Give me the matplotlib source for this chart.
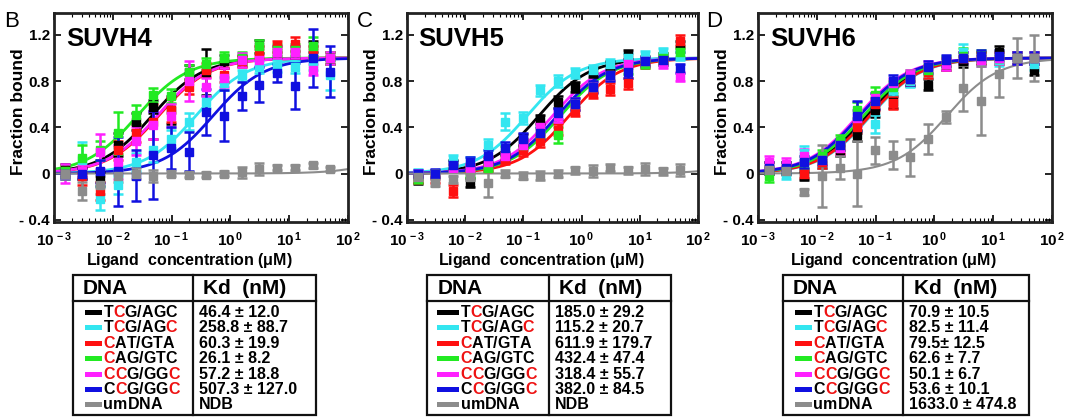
import numpy as np
import matplotlib
matplotlib.use('Agg')
import matplotlib.pyplot as plt
from matplotlib.patches import Rectangle

plt.rcParams['font.family'] = ['Liberation Sans', 'DejaVu Sans']
plt.rcParams['font.weight'] = 'bold'
plt.rcParams['mathtext.fontset'] = 'custom'
plt.rcParams['mathtext.rm'] = 'Liberation Sans:bold'
plt.rcParams['mathtext.it'] = 'Liberation Sans:bold'
plt.rcParams['mathtext.bf'] = 'Liberation Sans:bold'

# --- data -------------------------------------------------------------
# ligand concentration (uM), 2-fold dilution series
conc = [0.00153, 0.00305, 0.0061, 0.0122, 0.0244, 0.0488, 0.0977, 0.195,
        0.39, 0.781, 1.5625, 3.125, 6.25, 12.5, 25.0, 50.0]

dna_labels = ['TCG/AGC', 'TCG/AGC', 'CAT/GTA', 'CAG/GTC', 'CCG/GGC', 'CCG/GGC', 'umDNA']
red_pos = [[1], [1, 6], [0], [0], [0, 1, 6], [1, 6], []]
colors = ['black', '#33e6f0', '#ff1010', '#22ea22', '#ff20ff', '#1010e0', '#8c8c8c']

# SUVH4
h4_kd_text = ['46.4 ± 12.0', '258.8 ± 88.7', '60.3 ± 19.9', '26.1 ± 8.2',
              '57.2 ± 18.8', '507.3 ± 127.0', 'NDB']
h4_fit = [0.0464, 0.2588, 0.0603, 0.0261, 0.0572, 0.5073, 2500.0]   # uM
h4_y = [
    [0.03, 0.00, -0.05, 0.25, 0.45, 0.58, 0.55, 0.88, 0.88, 0.97, 0.98, 1.10, 1.05, 1.05, 1.10, 1.00],
    [0.00, 0.12, -0.22, -0.10, 0.10, 0.20, 0.30, 0.45, 0.62, 0.78, 0.85, 0.92, 0.93, 0.92, 0.95, 0.85],
    [0.02, -0.02, -0.15, 0.20, 0.35, 0.45, 0.55, 0.75, 0.90, 0.85, 0.97, 1.05, 1.10, 1.12, 1.05, 1.00],
    [0.02, 0.13, 0.20, 0.35, 0.51, 0.68, 0.67, 0.88, 0.95, 1.00, 1.00, 1.10, 1.07, 1.07, 1.10, 1.00],
    [0.00, 0.02, 0.19, 0.10, 0.28, 0.42, 0.50, 0.80, 0.75, 0.83, 0.98, 0.98, 1.05, 1.05, 0.90, 1.00],
    [0.00, 0.00, 0.02, 0.02, -0.02, 0.16, 0.22, 0.19, 0.53, 0.50, 0.67, 0.77, 0.87, 0.76, 1.00, 0.88],
    [0.00, -0.15, -0.10, -0.02, 0.00, -0.02, 0.00, -0.01, -0.01, 0.00, 0.01, 0.04, 0.05, 0.05, 0.07, 0.04],
]
h4_err = [
    [0.05, 0.05, 0.06, 0.10, 0.07, 0.06, 0.12, 0.06, 0.20, 0.06, 0.05, 0.06, 0.05, 0.05, 0.05, 0.05],
    [0.05, 0.15, 0.10, 0.08, 0.08, 0.10, 0.08, 0.07, 0.05, 0.06, 0.05, 0.05, 0.05, 0.05, 0.05, 0.13],
    [0.05, 0.08, 0.08, 0.08, 0.08, 0.15, 0.10, 0.06, 0.06, 0.06, 0.05, 0.05, 0.05, 0.06, 0.05, 0.05],
    [0.05, 0.12, 0.08, 0.18, 0.08, 0.06, 0.06, 0.06, 0.05, 0.05, 0.05, 0.06, 0.05, 0.05, 0.08, 0.05],
    [0.08, 0.05, 0.15, 0.15, 0.12, 0.12, 0.10, 0.17, 0.08, 0.08, 0.06, 0.05, 0.05, 0.05, 0.05, 0.05],
    [0.05, 0.05, 0.10, 0.30, 0.22, 0.38, 0.18, 0.17, 0.20, 0.22, 0.12, 0.15, 0.08, 0.20, 0.25, 0.22],
    [0.05, 0.08, 0.08, 0.05, 0.05, 0.05, 0.02, 0.02, 0.02, 0.02, 0.05, 0.05, 0.02, 0.02, 0.02, 0.02],
]

# SUVH5
h5_kd_text = ['185.0 ± 29.2', '115.2 ± 20.7', '611.9 ± 179.7', '432.4 ± 47.4',
              '318.4 ± 55.7', '382.0 ± 84.5', 'NDB']
h5_fit = [0.185, 0.1152, 0.6119, 0.4324, 0.3184, 0.382, 5000.0]
h5_y = [
    [-0.05, 0.00, 0.08, -0.08, 0.10, 0.15, 0.29, 0.47, 0.62, 0.75, 0.88, 0.93, 1.03, 0.98, 1.00, 1.10],
    [0.00, 0.00, 0.12, 0.10, 0.25, 0.45, 0.48, 0.72, 0.80, 0.87, 0.90, 0.95, 1.00, 1.02, 1.05, 1.02],
    [-0.05, -0.05, -0.15, 0.05, 0.05, 0.12, 0.20, 0.28, 0.38, 0.54, 0.70, 0.73, 0.78, 0.95, 0.98, 1.15],
    [-0.05, 0.00, 0.05, 0.00, 0.05, 0.20, 0.25, 0.35, 0.33, 0.60, 0.75, 0.85, 0.90, 0.95, 1.00, 1.05],
    [0.00, 0.00, 0.05, 0.05, 0.10, 0.15, 0.25, 0.40, 0.50, 0.60, 0.75, 0.85, 0.95, 0.97, 0.95, 0.84],
    [0.00, 0.00, 0.07, 0.10, 0.15, 0.22, 0.30, 0.35, 0.52, 0.60, 0.75, 0.85, 0.88, 0.97, 0.98, 0.91],
    [-0.03, -0.08, -0.05, -0.03, -0.08, 0.00, -0.02, -0.02, 0.00, 0.03, 0.02, 0.05, 0.03, 0.04, 0.02, 0.03],
]
h5_err = [
    [0.04, 0.03, 0.04, 0.04, 0.04, 0.04, 0.05, 0.04, 0.05, 0.04, 0.04, 0.04, 0.04, 0.04, 0.04, 0.05],
    [0.04, 0.03, 0.04, 0.04, 0.05, 0.07, 0.05, 0.05, 0.05, 0.04, 0.04, 0.04, 0.04, 0.04, 0.04, 0.04],
    [0.03, 0.03, 0.05, 0.03, 0.03, 0.04, 0.05, 0.05, 0.05, 0.04, 0.05, 0.05, 0.05, 0.04, 0.04, 0.05],
    [0.03, 0.03, 0.03, 0.03, 0.03, 0.04, 0.05, 0.04, 0.07, 0.05, 0.04, 0.04, 0.04, 0.04, 0.04, 0.04],
    [0.03, 0.03, 0.03, 0.03, 0.04, 0.04, 0.05, 0.05, 0.05, 0.05, 0.04, 0.04, 0.04, 0.04, 0.04, 0.04],
    [0.03, 0.04, 0.04, 0.04, 0.05, 0.05, 0.05, 0.05, 0.05, 0.05, 0.05, 0.05, 0.05, 0.04, 0.04, 0.04],
    [0.03, 0.03, 0.03, 0.03, 0.12, 0.03, 0.03, 0.04, 0.03, 0.03, 0.05, 0.03, 0.03, 0.05, 0.03, 0.05],
]

# SUVH6
h6_kd_text = ['70.9 ± 10.5', '82.5 ± 11.4', '79.5± 12.5', '62.6 ± 7.7',
              '50.1 ± 6.7', '53.6 ± 10.1', '1633.0 ± 474.8']
h6_fit = [0.0709, 0.0825, 0.0795, 0.0626, 0.0501, 0.0536, 1.633]
h6_y = [
    [0.05, 0.05, -0.02, 0.10, 0.20, 0.33, 0.55, 0.62, 0.82, 0.77, 0.95, 0.97, 1.00, 1.05, 1.00, 0.90],
    [0.05, 0.00, 0.18, 0.10, 0.25, 0.45, 0.43, 0.72, 0.80, 0.88, 0.95, 1.05, 0.98, 0.98, 1.00, 0.95],
    [0.05, 0.05, 0.00, 0.10, 0.22, 0.40, 0.60, 0.61, 0.82, 0.88, 0.95, 1.00, 1.00, 1.00, 1.00, 1.00],
    [-0.02, 0.05, 0.10, 0.15, 0.28, 0.55, 0.68, 0.75, 0.85, 0.90, 0.97, 1.02, 1.02, 1.00, 1.00, 1.00],
    [0.10, 0.08, 0.15, 0.12, 0.22, 0.48, 0.65, 0.78, 0.85, 0.92, 0.95, 1.00, 0.98, 1.00, 1.00, 1.00],
    [0.05, 0.05, 0.10, 0.12, 0.25, 0.50, 0.63, 0.80, 0.82, 0.92, 0.98, 1.00, 1.02, 1.02, 1.00, 1.00],
    [0.03, 0.02, -0.16, -0.02, 0.05, 0.00, 0.20, 0.16, 0.14, 0.30, 0.49, 0.74, 0.63, 0.86, 1.00, 1.00],
]
h6_err = [
    [0.05, 0.05, 0.04, 0.05, 0.05, 0.05, 0.06, 0.05, 0.06, 0.05, 0.05, 0.05, 0.05, 0.05, 0.05, 0.05],
    [0.05, 0.05, 0.06, 0.05, 0.05, 0.10, 0.08, 0.05, 0.05, 0.05, 0.05, 0.07, 0.05, 0.05, 0.05, 0.05],
    [0.05, 0.05, 0.04, 0.05, 0.05, 0.05, 0.05, 0.05, 0.05, 0.05, 0.05, 0.05, 0.05, 0.05, 0.05, 0.05],
    [0.05, 0.05, 0.05, 0.05, 0.05, 0.07, 0.07, 0.05, 0.05, 0.05, 0.05, 0.07, 0.05, 0.05, 0.05, 0.05],
    [0.05, 0.05, 0.06, 0.05, 0.05, 0.07, 0.05, 0.05, 0.05, 0.05, 0.05, 0.05, 0.05, 0.05, 0.05, 0.05],
    [0.05, 0.05, 0.05, 0.05, 0.05, 0.13, 0.07, 0.05, 0.05, 0.05, 0.05, 0.05, 0.05, 0.05, 0.05, 0.05],
    [0.03, 0.03, 0.03, 0.27, 0.10, 0.28, 0.12, 0.12, 0.16, 0.13, 0.05, 0.20, 0.30, 0.20, 0.17, 0.20],
]

panels = [
    ('B', 'SUVH4', h4_y, h4_err, h4_fit, h4_kd_text),
    ('C', 'SUVH5', h5_y, h5_err, h5_fit, h5_kd_text),
    ('D', 'SUVH6', h6_y, h6_err, h6_fit, h6_kd_text),
]

# --- layout (pixels on a 1067x417 canvas) -----------------------------
W, H = 1067, 417
axes_px = [(54, 294), (407, 291), (758, 294)]       # left, width
ax_top, ax_bot = 13, 222
letter_x = [4, 357, 706]
# table geometry: left, divider, right, dna text x, swatch x0, swatch x1, kd x, kd header x
tables = [
    (73, 193, 316, 83, 85, 102, 199, 203),
    (427, 549, 671, 438, 437, 459, 555, 559),
    (783, 903, 1029, 793, 795, 812, 909, 914),
]

fig = plt.figure(figsize=(W / 100, H / 100), dpi=100)
fig.patch.set_facecolor('white')

xfit = np.logspace(-3, 2, 400)
xticks = [1e-3, 1e-2, 1e-1, 1e0, 1e1, 1e2]
xtlabels = [r'$10^{\,-3}$', r'$10^{\,-2}$', r'$10^{\,-1}$', r'$10^{\,0}$', r'$10^{\,1}$', r'$10^{\,2}$']

for (letter, name, ys, errs, fits, _), (left, width) in zip(panels, axes_px):
    ax = fig.add_axes([left / W, 1 - ax_bot / H, width / W, (ax_bot - ax_top) / H])
    ax.set_xscale('log')
    for y, e, kd, c in zip(ys, errs, fits, colors):
        fit = xfit / (kd + xfit)
        lw = 1.5 if c == colors[-1] else 2.0
        ax.plot(xfit, fit, color=c, lw=lw, zorder=2)
        ax.errorbar(conc, y, yerr=e, fmt='s', color=c, ms=5.5, elinewidth=1.8,
                    capsize=3.5, capthick=1.8, zorder=3)
    ax.set_xlim(1e-3, 1e2)
    ax.set_ylim(-0.42, 1.39)
    ax.set_xticks(xticks)
    ax.set_xticklabels(xtlabels, fontsize=11)
    ax.set_yticks([-0.4, 0, 0.4, 0.8, 1.2])
    ax.set_yticklabels(['- 0.4', '0', '0.4', '0.8', '1.2'], fontsize=11)
    ax.tick_params(which='both', direction='in', top=True, right=True)
    ax.tick_params(which='major', length=5, width=1.2, pad=3)
    ax.tick_params(axis='x', which='major', pad=6)
    ax.tick_params(which='minor', length=3, width=0.8)
    for s in ax.spines.values():
        s.set_linewidth(2.0)
        s.set_color('#222222')
    ax.text(0.04, 0.935, name, transform=ax.transAxes, fontsize=18.5,
            fontweight='bold', va='top', ha='left')
    ax.text(0.46, -0.185, r'Ligand  concentration ($\mathregular{\mu}$M)', transform=ax.transAxes,
            fontsize=11.5, fontweight='bold', ha='center', va='center')
    ax.text(-0.122, 0.53, 'Fraction bound', transform=ax.transAxes, rotation=90,
            fontsize=12.5, fontweight='bold', ha='center', va='center')

# overlay in pixel coordinates for panel letters and tables
ov = fig.add_axes([0, 0, 1, 1])
ov.set_xlim(0, W)
ov.set_ylim(H, 0)
ov.axis('off')
ov.patch.set_visible(False)
renderer = fig.canvas.get_renderer()

for lx, (letter, *_rest) in zip(letter_x, panels):
    ov.text(lx, 21, letter, fontsize=16, fontweight='normal', ha='left', va='center')

row_y0, row_step = 312.5, 15.4
for (left, div, right, dna_x, sw0, sw1, kd_x, kdh_x), panel in zip(tables, panels):
    kd_text = panel[5]
    ov.add_patch(Rectangle((left, 275), right - left, 140, fill=False, lw=1.6,
                           edgecolor='#111111'))
    ov.plot([div, div], [275, 415], color='#111111', lw=1.6)
    ov.plot([left, right], [301, 301], color='#111111', lw=1.6)
    ov.text(dna_x, 289, 'DNA', fontsize=15, fontweight='bold', va='center', ha='left')
    ov.text(kdh_x, 289, 'Kd  (nM)', fontsize=15, fontweight='bold', va='center', ha='left')
    for i, (lab, reds, c, kt) in enumerate(zip(dna_labels, red_pos, colors, kd_text)):
        y = row_y0 + i * row_step
        ov.add_patch(Rectangle((sw0, y - 2.5), sw1 - sw0, 5, color=c, lw=0))
        x = sw1 + 1.5
        for j, ch in enumerate(lab):
            t = ov.text(x, y, ch, fontsize=11.5, fontweight='bold', va='center', ha='left',
                        color='#ee1111' if j in reds else 'black')
            x += t.get_window_extent(renderer).width
        ov.text(kd_x, y, kt, fontsize=11.5, fontweight='bold', va='center', ha='left')

fig.savefig('out.png', dpi=100)
